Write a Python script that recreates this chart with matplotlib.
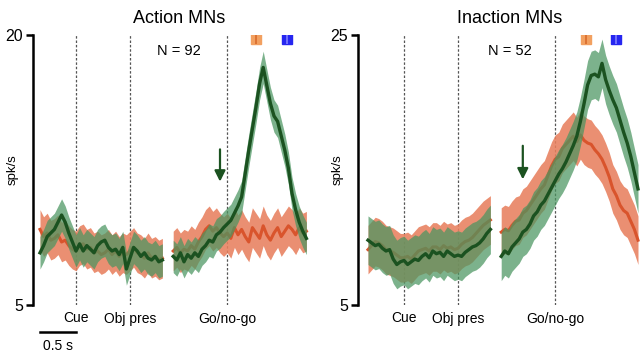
import numpy as np
import matplotlib
matplotlib.use("Agg")
import matplotlib.pyplot as plt
from matplotlib import font_manager

installed = {f.name for f in font_manager.fontManager.ttflist}
narrow = 'Liberation Sans'
for cand in ['Liberation Sans Narrow', 'DejaVu Sans Condensed', 'Liberation Sans']:
    if cand in installed:
        narrow = cand
        break
plt.rcParams['font.family'] = [narrow, 'DejaVu Sans']
NARROW = narrow != 'Liberation Sans'

# time grids (s, aligned so that Cue = 0)
t_seg1 = np.round(np.arange(-0.50, 1.201, 0.05), 2)
t_seg2_left = np.round(np.arange(1.35, 3.201, 0.05), 2)
t_seg2_right = np.round(np.arange(1.35, 3.251, 0.05), 2)

# Action MNs (left)
act_green_1 = [7.9, 8.3, 8.8, 9.0, 9.2, 9.6, 10.0, 9.6, 9.0, 8.5, 8.0, 8.4, 8.0, 8.3,
               8.1, 7.9, 8.3, 8.5, 8.6, 8.2, 8.0, 8.1, 7.8, 8.2, 7.0, 7.6, 8.2, 8.0,
               7.7, 7.9, 7.6, 7.5, 7.7, 7.4, 7.5]
act_orange_1 = [9.2, 8.8, 9.0, 8.6, 8.7, 8.9, 8.5, 8.6, 8.3, 8.1, 8.0, 8.3, 8.4, 8.1,
                8.2, 7.9, 8.0, 7.8, 7.9, 8.1, 7.8, 8.0, 7.7, 7.9, 7.8, 8.0, 8.2, 7.9,
                7.8, 7.6, 7.9, 7.6, 7.7, 7.5, 7.6]
act_green_2 = [7.7, 7.5, 7.9, 7.4, 7.8, 7.6, 7.9, 7.7, 8.1, 8.3, 8.6, 8.5, 8.9, 9.05,
               9.3, 9.5, 9.7, 10.1, 10.5, 11.0, 12.3, 13.6, 14.8, 16.0, 17.3, 18.2,
               17.2, 16.2, 15.5, 15.2, 14.4, 13.6, 12.6, 11.2, 10.3, 9.6, 9.1, 8.7]
act_orange_2 = [8.0, 8.2, 7.9, 8.1, 8.0, 8.3, 8.1, 8.5, 8.8, 9.2, 9.4, 9.1, 9.3, 9.0,
                8.8, 9.0, 8.7, 9.3, 8.9, 9.2, 8.8, 8.5, 9.3, 9.0, 8.7, 9.4, 8.9, 8.6,
                9.0, 9.3, 8.8, 9.1, 9.4, 9.2, 8.9, 9.3, 9.0, 9.1]

# Inaction MNs (right)
inact_green_1 = [9.8, 9.6, 9.4, 9.5, 9.2, 9.0, 9.1, 8.4, 8.0, 8.2, 8.3, 8.0, 8.2, 8.4,
                 8.3, 8.6, 8.8, 8.5, 9.0, 8.8, 8.9, 8.6, 9.0, 8.8, 8.6, 8.7, 8.6, 8.9,
                 9.1, 9.3, 9.4, 9.6, 9.9, 10.3, 10.6]
inact_orange_1 = [9.1, 9.4, 9.7, 9.6, 9.4, 9.1, 9.0, 8.9, 8.7, 8.5, 8.5, 8.6, 8.4, 8.7,
                  9.0, 9.1, 9.2, 9.0, 9.3, 9.3, 9.1, 9.4, 9.2, 9.3, 9.1, 9.2, 9.5, 9.7,
                  9.8, 10.0, 10.3, 10.6, 10.9, 11.1, 11.3]
inact_green_2 = [8.6, 9.0, 8.8, 9.3, 9.6, 9.9, 10.4, 10.6, 11.0, 11.6, 11.9, 12.4, 12.7,
                 13.2, 13.7, 14.2, 14.7, 15.1, 15.6, 16.2, 16.8, 17.5, 18.6, 19.9, 21.3,
                 22.0, 22.1, 21.9, 22.9, 21.7, 20.9, 20.2, 19.6, 18.7, 17.8, 17.0, 16.0,
                 14.8, 13.6]
inact_orange_2 = [10.4, 10.6, 10.5, 10.9, 11.2, 11.3, 11.8, 12.0, 12.4, 12.8, 13.2, 13.6,
                  13.9, 14.6, 15.3, 15.8, 16.0, 16.6, 16.9, 17.2, 17.5, 17.1, 17.6, 17.2,
                  17.0, 16.9, 16.5, 16.2, 15.8, 15.2, 14.5, 13.6, 13.1, 12.4, 12.0, 11.8,
                  11.2, 10.6, 9.8]

# half-width of shaded bands (spk/s)
act_sem = {'green': 0.9, 'orange': 1.1}
inact_sem = {'green': 1.8, 'orange': 1.8}

events = [0.0, 0.75, 2.1]
event_labels = ['Cue', 'Obj pres', 'Go/no-go']

GREEN_LINE = '#1b5220'
GREEN_BAND = '#4a9560'
ORANGE_LINE = '#d9542c'
ORANGE_BAND = '#e8805e'

FS = 11 if NARROW else 10

fig = plt.figure(figsize=(6.4, 3.54), dpi=100)
W, H = 640, 354


def make_axes(x0, x1, xlim, ylim):
    ax = fig.add_axes([x0 / W, (H - 305) / H, (x1 - x0) / W, 270 / H])
    ax.set_xlim(*xlim)
    ax.set_ylim(*ylim)
    for s in ['top', 'right', 'bottom']:
        ax.spines[s].set_visible(False)
    ax.spines['left'].set_linewidth(1.8)
    ax.set_xticks([])
    ax.set_yticks(ylim)
    ax.set_yticklabels([str(v) for v in ylim], fontsize=FS + 1.5)
    ax.tick_params(axis='y', length=5, width=1.8, pad=2)
    ax.set_ylabel('spk/s', fontsize=FS - 0.5)
    ax.yaxis.set_label_coords(-14 / (x1 - x0), 0.5)
    return ax


def draw_panel(ax, segs, sem, title, title_t, n_text, arrow_t, arrow_y, mark_y, mark_t):
    for t, g, o in segs:
        o = np.array(o)
        g = np.array(g)
        ax.fill_between(t, o - sem['orange'], o + sem['orange'], color=ORANGE_BAND,
                        alpha=0.88, lw=0, zorder=2)
        ax.plot(t, o, color=ORANGE_LINE, lw=2.2, zorder=3)
        ax.fill_between(t, g - sem['green'], g + sem['green'], color=GREEN_BAND,
                        alpha=0.72, lw=0, zorder=4)
        ax.plot(t, g, color=GREEN_LINE, lw=2.4, zorder=5)
    for ev, lab in zip(events, event_labels):
        ax.axvline(ev, color='#555555', lw=0.9, ls=(0, (2, 1.5)), zorder=1)
        ax.text(ev, -0.05, lab, transform=ax.get_xaxis_transform(), ha='center',
                va='center', fontsize=FS)
    ax.text(title_t, 1.062, title, transform=ax.get_xaxis_transform(), ha='center',
            va='center', fontsize=13, family=['Liberation Sans', 'DejaVu Sans'])
    ax.text(title_t, 0.94, n_text, transform=ax.get_xaxis_transform(), ha='center',
            va='center', fontsize=FS + 0.5)
    ax.annotate('', xy=(arrow_t, arrow_y[1]), xytext=(arrow_t, arrow_y[0]),
                arrowprops=dict(arrowstyle='-|>', color=GREEN_LINE, lw=1.6,
                                mutation_scale=16), zorder=6)
    ax.plot(mark_t[0], mark_y, marker='s', ms=7, color='#f2a060', mec='#f2a060', zorder=7)
    ax.plot(mark_t[0], mark_y, marker='|', ms=7, color='#d86a2a', mew=1.2, zorder=8)
    ax.plot(mark_t[1], mark_y, marker='s', ms=7, color='#2626f0', mec='#2626f0', zorder=7)
    ax.plot(mark_t[1], mark_y, marker='|', ms=7, color='#8080ff', mew=1.2, zorder=8)


ax1 = make_axes(33, 312, ((33 - 76) / 72, (312 - 76) / 72), (5, 20))
draw_panel(ax1, [(t_seg1, act_green_1, act_orange_1),
                 (t_seg2_left, act_green_2, act_orange_2)],
           act_sem, 'Action MNs', 1.43, 'N = 92', 2.0, (13.8, 11.7), 19.8, (2.5, 2.93))

# scale bar 0.5 s
ax1.plot([-0.5, 0.0], [-0.1, -0.1], color='black', lw=1.8,
         transform=ax1.get_xaxis_transform(), clip_on=False)
ax1.text(-0.25, -0.15, '0.5 s', transform=ax1.get_xaxis_transform(), ha='center',
         va='center', fontsize=FS)

ax2 = make_axes(358, 640, ((358 - 404) / 72, (640 - 404) / 72), (5, 25))
draw_panel(ax2, [(t_seg1, inact_green_1, inact_orange_1),
                 (t_seg2_right, inact_green_2, inact_orange_2)],
           inact_sem, 'Inaction MNs', 1.47, 'N = 52', 1.65, (17.0, 14.1), 24.7, (2.53, 2.94))

fig.savefig('out.png', dpi=100)
